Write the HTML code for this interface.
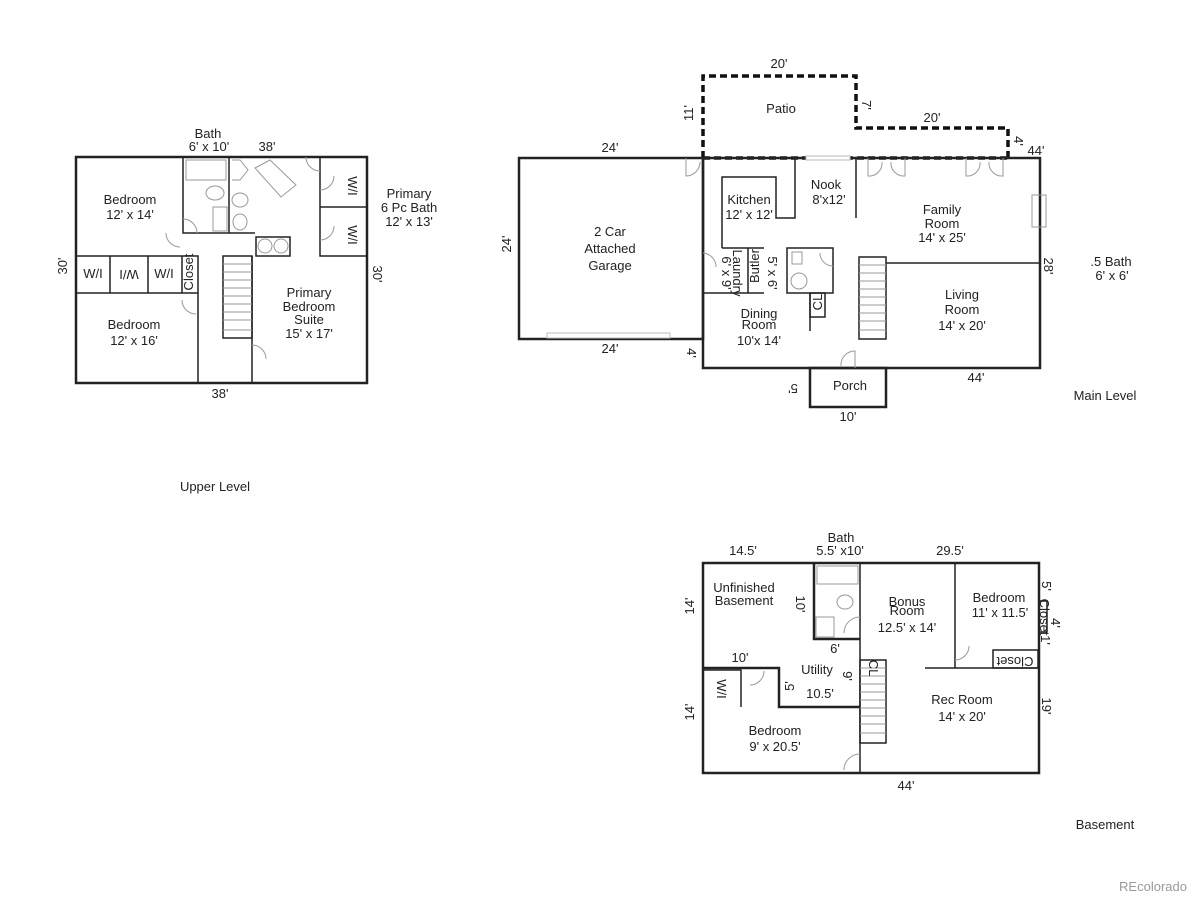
<!DOCTYPE html>
<html><head><meta charset="utf-8"><style>
html,body{margin:0;padding:0;background:#fff;}
svg{display:block;}
text{font-family:"Liberation Sans",sans-serif;font-size:13px;fill:#222;text-anchor:middle;}
.w{stroke:#222;stroke-width:2.5;fill:none;}
.t{stroke:#222;stroke-width:1.5;fill:none;}
.l{stroke:#999;stroke-width:1;fill:none;}
.d{stroke:#111;stroke-width:3.5;fill:none;stroke-dasharray:7,4;}
</style></head><body>
<svg width="1200" height="900" viewBox="0 0 1200 900" xmlns="http://www.w3.org/2000/svg">
<!-- UPPER LEVEL -->
<rect x="76" y="157" width="291" height="226" class="w"/>
<path class="t" d="M183 157V233H255 M229 157V233 M320 157V256H367 M320 207H367 M76 256H198V383 M76 293H198 M110 256V293 M148 256V293 M182 256V293 M252 256V383 M256 237H290V256H256Z"/>
<rect x="223" y="256" width="29" height="82" class="t"/>
<path class="l" d="M223 264H252M223 272H252M223 280H252M223 288H252M223 296H252M223 304H252M223 312H252M223 320H252M223 330H252"/>
<rect x="186" y="160" width="40" height="20" class="l"/>
<ellipse cx="215" cy="193" rx="9" ry="7" class="l"/><ellipse cx="240" cy="200" rx="8" ry="7" class="l"/>
<rect x="213" y="207" width="14" height="24" class="l"/><ellipse cx="240" cy="222" rx="7" ry="8" class="l"/>
<path class="l" d="M255 168L270 160L296 185L281 197Z M232 160H240L248 170L240 180H232"/>
<circle cx="265" cy="246" r="7" class="l"/><circle cx="281" cy="246" r="7" class="l"/>
<path class="l" d="M183 219A14 14 0 0 1 197 233 M182 300A14 14 0 0 0 196 314 M252 345A14 14 0 0 1 266 359 M320 190A14 14 0 0 0 334 176 M320 240A14 14 0 0 0 334 226 M166 233A14 14 0 0 0 180 247 M306 157A14 14 0 0 0 320 171"/>
<text x="208" y="138">Bath</text><text x="209" y="151">6' x 10'</text><text x="267" y="151">38'</text>
<text x="130" y="204">Bedroom</text><text x="130" y="219">12' x 14'</text>
<text x="409" y="198">Primary</text><text x="409" y="212">6 Pc Bath</text><text x="409" y="226">12' x 13'</text>
<text x="93" y="278" font-size="10">W/I</text><text x="129" y="278" font-size="10" transform="rotate(180 129 274)">W/I</text><text x="164" y="278" font-size="10">W/I</text>
<text x="193" y="278" font-size="10" transform="rotate(-90 190 275)">Closet</text>
<text x="355" y="185" font-size="10" transform="rotate(90 351 182)">W/I</text><text x="355" y="234" font-size="10" transform="rotate(90 351 231)">W/I</text>
<text x="67" y="274" transform="rotate(-90 63 270)">30'</text><text x="381" y="274" transform="rotate(90 377 270)">30'</text>
<text x="134" y="329">Bedroom</text><text x="134" y="345">12' x 16'</text>
<text x="309" y="297">Primary</text><text x="309" y="311">Bedroom</text><text x="309" y="324">Suite</text><text x="309" y="338">15' x 17'</text>
<text x="220" y="398">38'</text>
<text x="215" y="491">Upper Level</text>
<!-- MAIN LEVEL -->
<path class="d" d="M703 158V76H856V128H1008V158 M703 158H1008"/>
<rect x="519" y="158" width="184" height="181" class="w"/>
<path class="w" d="M703 158H1040V368H703Z"/>
<rect x="547" y="333" width="123" height="5" fill="#fff" stroke="#bbb"/>
<rect x="806" y="156" width="44" height="4" fill="#fff" stroke="#bbb"/>
<path class="t" d="M722 248V177H776V218H795V158 M856 158V218 M703 293H764 M722 248H764 M748 248V293 M810 293V331 M886 263H1040"/>
<rect x="787" y="248" width="46" height="45" class="t"/>
<rect x="810" y="293" width="15" height="24" class="t"/>
<rect x="859" y="257" width="27" height="82" class="t"/>
<path class="l" d="M859 265H886M859 273H886M859 281H886M859 289H886M859 297H886M859 305H886M859 313H886M859 321H886M859 330H886"/>
<rect x="810" y="368" width="76" height="39" class="w"/>
<rect x="1032" y="195" width="14" height="32" class="l"/>
<rect x="792" y="252" width="10" height="12" class="l"/><ellipse cx="799" cy="281" rx="8" ry="8" class="l"/>
<path class="l" d="M686 158V176A14 14 0 0 0 700 162 M868 158V176A13 13 0 0 0 882 162 M905 158V176A13 13 0 0 1 891 162 M966 158V176A13 13 0 0 0 980 162 M1003 158V176A13 13 0 0 1 989 162 M703 253A14 14 0 0 1 716 267 M855 368V351A14 14 0 0 0 841 366 M820 253A13 13 0 0 0 833 266"/>
<text x="779" y="68">20'</text><text x="781" y="113">Patio</text>
<text x="693" y="121" transform="rotate(-90 689 117)">11'</text><text x="870" y="105" transform="rotate(90 866 101)">7'</text>
<text x="932" y="122">20'</text><text x="1022" y="141" transform="rotate(90 1018 137)">4'</text>
<text x="1036" y="155">44'</text><text x="610" y="152">24'</text>
<text x="511" y="252" transform="rotate(-90 507 248)">24'</text>
<text x="610" y="236">2 Car</text><text x="610" y="253">Attached</text><text x="610" y="270">Garage</text>
<text x="610" y="353">24'</text><text x="692" y="356" transform="rotate(90 691 352)">4'</text>
<text x="749" y="204">Kitchen</text><text x="749" y="219">12' x 12'</text>
<text x="826" y="189">Nook</text><text x="829" y="204">8'x12'</text>
<text x="942" y="214">Family</text><text x="942" y="228">Room</text><text x="942" y="242">14' x 25'</text>
<text x="1052" y="266" transform="rotate(90 1048 262)">28'</text>
<text x="962" y="299">Living</text><text x="962" y="314">Room</text><text x="962" y="330">14' x 20'</text>
<text x="759" y="318">Dining</text><text x="759" y="329">Room</text><text x="759" y="345">10'x 14'</text>
<text x="850" y="390">Porch</text><text x="801" y="392" transform="rotate(180 797 388)">5'</text>
<text x="848" y="421">10'</text><text x="976" y="382">44'</text>
<text x="1111" y="266">.5 Bath</text><text x="1112" y="280">6' x 6'</text>
<text x="1105" y="400">Main Level</text>
<text x="740" y="274" font-size="10" transform="rotate(90 737 270)">Laundry</text>
<text x="729" y="274" font-size="9" transform="rotate(90 726 270)">6' x 9'</text>
<text x="759" y="274" font-size="10" transform="rotate(-90 755 270)">Butler</text>
<text x="775" y="274" font-size="9" transform="rotate(90 772 270)">5' x 6'</text>
<text x="821" y="309" font-size="10" transform="rotate(-90 818 305)">CL</text>
<!-- BASEMENT -->
<rect x="703" y="563" width="336" height="210" class="w"/>
<path class="w" d="M814 563V639H860 M703 668H779V707H860"/>
<path class="t" d="M860 563V773 M955 563V668 M925 668H1039 M703 670H741V707"/>
<rect x="1039" y="601" width="8" height="31" class="t"/>
<rect x="993" y="650" width="45" height="18" class="t"/>
<rect x="860" y="660" width="26" height="83" class="t"/>
<path class="l" d="M860 668H886M860 676H886M860 684H886M860 692H886M860 700H886M860 708H886M860 716H886M860 724H886M860 733H886"/>
<rect x="817" y="566" width="41" height="18" class="l"/><ellipse cx="845" cy="602" rx="8" ry="7" class="l"/><rect x="816" y="617" width="18" height="20" class="l"/>
<path class="l" d="M860 617A16 16 0 0 0 844 633 M955 660A14 14 0 0 0 969 646 M750 685A14 14 0 0 0 764 671 M860 754A16 16 0 0 0 844 770"/>
<text x="841" y="542">Bath</text><text x="840" y="555">5.5' x10'</text>
<text x="743" y="555">14.5'</text><text x="950" y="555">29.5'</text>
<text x="744" y="592">Unfinished</text><text x="744" y="605">Basement</text>
<text x="804" y="604" transform="rotate(90 800 600)">10'</text>
<text x="907" y="606">Bonus</text><text x="907" y="615">Room</text><text x="907" y="632">12.5' x 14'</text>
<text x="999" y="602">Bedroom</text><text x="1000" y="617">11' x 11.5'</text>
<text x="1050" y="586" transform="rotate(90 1046 582)">5'</text>
<text x="1059" y="623" transform="rotate(90 1055 619)">4'</text>
<text x="1047" y="642" transform="rotate(90 1045 638)">1'</text>
<text x="694" y="614" transform="rotate(-90 690 610)">14'</text><text x="694" y="720" transform="rotate(-90 690 716)">14'</text>
<text x="835" y="653">6'</text><text x="740" y="662">10'</text>
<text x="817" y="674">Utility</text><text x="851" y="676" transform="rotate(90 847 672)">9'</text>
<text x="794" y="694" transform="rotate(-90 790 690)">5'</text><text x="820" y="698">10.5'</text>
<text x="1015" y="663" font-size="9" transform="rotate(180 1015 660)">Closet</text>
<text x="1043" y="620" font-size="7" transform="rotate(90 1043 617)">Closet</text>
<text x="875" y="670" font-size="10" transform="rotate(90 873 666)">CL</text>
<text x="721" y="693" font-size="10" transform="rotate(90 721 689)">W/I</text>
<text x="962" y="704">Rec Room</text><text x="962" y="721">14' x 20'</text>
<text x="1050" y="706" transform="rotate(90 1046 702)">19'</text>
<text x="775" y="735">Bedroom</text><text x="775" y="751">9' x 20.5'</text>
<text x="906" y="790">44'</text>
<text x="1105" y="829">Basement</text>
<text x="1153" y="891" font-size="16" style="fill:#9a9a9a">REcolorado</text>
</svg>
</body></html>
